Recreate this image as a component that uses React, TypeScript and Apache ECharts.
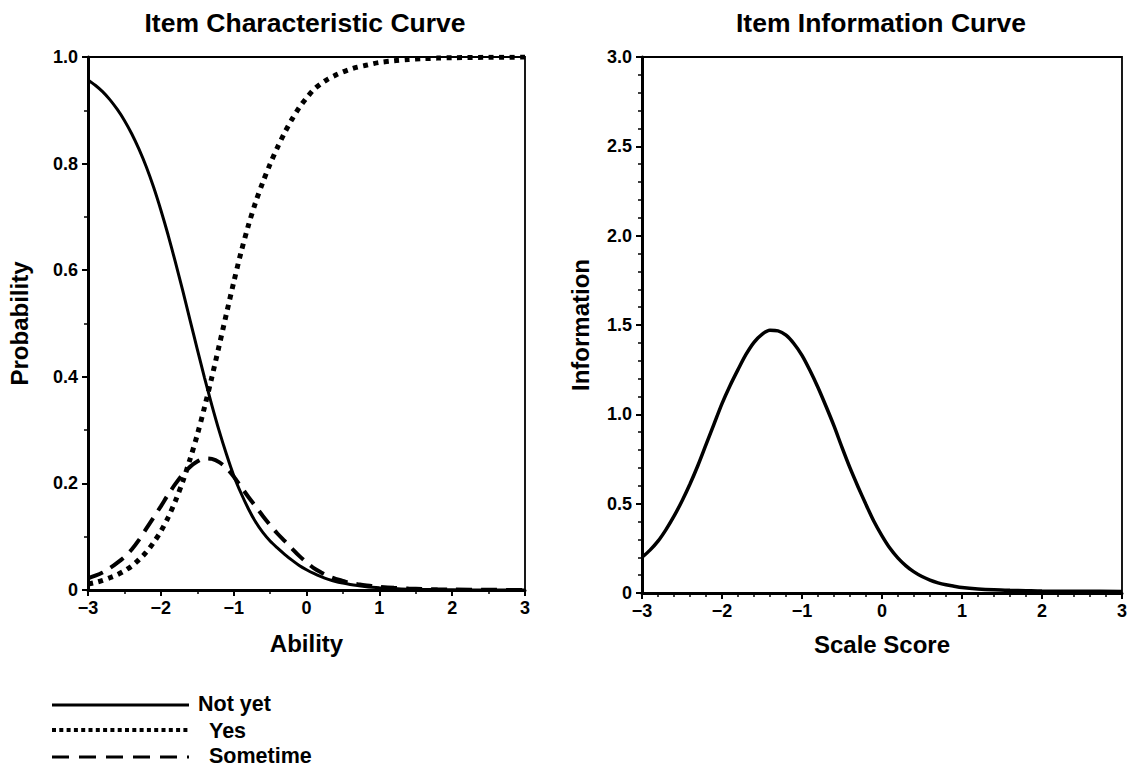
import React, { useEffect, useRef } from "react";
import * as echarts from "echarts";

const FONT = "'Liberation Sans', Arial, Helvetica, sans-serif";

// Ability / scale-score grid (read positions along the x axis)
const theta = [
  -3, -2.9, -2.8, -2.7, -2.6, -2.5, -2.4, -2.3, -2.2, -2.1, -2, -1.9, -1.8, -1.7, -1.6, -1.5, -1.4, -1.3, -1.2, -1.1,
  -1, -0.9, -0.8, -0.7, -0.6, -0.5, -0.4, -0.3, -0.2, -0.1, 0, 0.1, 0.2, 0.3, 0.4, 0.5, 0.6, 0.7, 0.8, 0.9,
  1, 1.2, 1.4, 1.6, 1.8, 2, 2.5, 3,
];

// Item characteristic curves
const notYet = [
  0.957, 0.947, 0.935, 0.92, 0.902, 0.881, 0.856, 0.827, 0.794, 0.756, 0.713, 0.666, 0.615, 0.562, 0.507, 0.452, 0.398, 0.347, 0.299, 0.255,
  0.215, 0.182, 0.153, 0.128, 0.108, 0.092, 0.079, 0.067, 0.056, 0.046, 0.038, 0.031, 0.025, 0.02, 0.016, 0.013, 0.0104, 0.0083, 0.0066, 0.0052,
  0.0041, 0.0026, 0.0016, 0.001, 0.0006, 0.0004, 0.0001, 0.00005,
];
const yes = [
  0.011, 0.014, 0.018, 0.023, 0.0285, 0.036, 0.045, 0.057, 0.071, 0.089, 0.11, 0.136, 0.167, 0.203, 0.245, 0.291, 0.343, 0.399, 0.458, 0.518,
  0.577, 0.633, 0.683, 0.727, 0.765, 0.799, 0.83, 0.858, 0.883, 0.905, 0.923, 0.939, 0.95, 0.959, 0.966, 0.972, 0.977, 0.981, 0.984, 0.987,
  0.9897, 0.993, 0.9953, 0.9968, 0.9979, 0.9986, 0.9995, 0.9998,
];
const sometime = [
  0.022, 0.027, 0.033, 0.041, 0.051, 0.062, 0.076, 0.094, 0.115, 0.136, 0.157, 0.179, 0.199, 0.217, 0.231, 0.241, 0.247, 0.246, 0.24, 0.229,
  0.213, 0.194, 0.175, 0.157, 0.139, 0.122, 0.106, 0.092, 0.078, 0.064, 0.052, 0.041, 0.033, 0.026, 0.021, 0.017, 0.013, 0.011, 0.009, 0.0075,
  0.006, 0.004, 0.0027, 0.0018, 0.0012, 0.0008, 0.0003, 0.0001,
];

// Item information curve
const information = [
  0.2, 0.24, 0.29, 0.355, 0.43, 0.515, 0.61, 0.715, 0.83, 0.945, 1.06, 1.16, 1.25, 1.335, 1.403, 1.448, 1.47, 1.467, 1.443, 1.395,
  1.33, 1.245, 1.15, 1.045, 0.935, 0.815, 0.7, 0.595, 0.495, 0.4, 0.32, 0.25, 0.195, 0.152, 0.118, 0.092, 0.072, 0.057, 0.046, 0.038,
  0.031, 0.023, 0.018, 0.015, 0.013, 0.011, 0.01, 0.009,
];

const titles = ["Item Characteristic Curve", "Item Information Curve"];
const legendNames = ["Not yet", "Yes", "Sometime"];

const pairs = (xs: number[], ys: number[]) => xs.map((x, i) => [x, ys[i]]);
const fmtX = (v: number) => (v < 0 ? "\u2212" + Math.abs(v) : String(v));
const fmtY = (v: number) => (v === 0 ? "0" : v.toFixed(1));

const labelStyle = { color: "#000", fontFamily: FONT, fontWeight: "bold" as const, fontSize: 18 };
const nameStyle = { color: "#000", fontFamily: FONT, fontWeight: "bold" as const, fontSize: 24 };

function xAxisCfg(gridIndex: number, name: string, minorSplit: number, gap: number) {
  return {
    type: "value",
    gridIndex,
    min: -3,
    max: 3,
    interval: 1,
    name,
    nameLocation: "middle",
    nameGap: gap,
    nameTextStyle: nameStyle,
    axisLine: { show: true, onZero: false, lineStyle: { color: "#000", width: 3 } },
    axisTick: { show: true, length: 6, lineStyle: { color: "#000", width: 2 } },
    minorTick: { show: true, splitNumber: minorSplit, length: 4, lineStyle: { color: "#000", width: 1.5 } },
    splitLine: { show: false },
    minorSplitLine: { show: false },
    axisLabel: { ...labelStyle, margin: 9, formatter: fmtX },
  };
}

function yAxisCfg(gridIndex: number, name: string, max: number, interval: number, minorSplit: number, gap: number) {
  return {
    type: "value",
    gridIndex,
    min: 0,
    max,
    interval,
    name,
    nameLocation: "middle",
    nameGap: gap,
    nameRotate: 90,
    nameTextStyle: nameStyle,
    axisLine: { show: true, onZero: false, lineStyle: { color: "#000", width: 3 } },
    axisTick: { show: true, length: 6, lineStyle: { color: "#000", width: 2 } },
    minorTick: { show: true, splitNumber: minorSplit, length: 4, lineStyle: { color: "#000", width: 1.5 } },
    splitLine: { show: false },
    minorSplitLine: { show: false },
    axisLabel: { ...labelStyle, margin: 10, formatter: fmtY },
  };
}

const legendLineY = [705, 730, 757];
const legendTextY = [704, 731, 756];
const legendDash: (number[] | null)[] = [null, [4, 3.3], [17, 10]];
const legendTextX = [198, 209, 209];

export default function App() {
  const ref = useRef<HTMLDivElement>(null);
  useEffect(() => {
    const chart = echarts.init(ref.current!, null, { renderer: "svg" });
    const titleX = [305, 881];
    const graphics: any[] = titles.map((t, i) => ({
      type: "text",
      x: titleX[i],
      y: 23,
      style: { text: t, fill: "#000", font: `bold 26.5px ${FONT}`, align: "center", verticalAlign: "middle", textAlign: "center", textVerticalAlign: "middle" },
    }));
    legendNames.forEach((n, i) => {
      graphics.push({
        type: "line",
        shape: { x1: 52, y1: legendLineY[i], x2: 189, y2: legendLineY[i] },
        style: { stroke: "#000", lineWidth: i === 1 ? 4 : 3, lineDash: legendDash[i] || undefined },
      });
      graphics.push({
        type: "text",
        x: legendTextX[i],
        y: legendTextY[i],
        style: { text: n, fill: "#000", font: `bold 21.5px ${FONT}`, align: "left", verticalAlign: "middle", textAlign: "left", textVerticalAlign: "middle" },
      });
    });

    const lineSeries = (name: string, xi: number, ys: number[], lineStyle: any) => ({
      type: "line",
      name,
      xAxisIndex: xi,
      yAxisIndex: xi,
      data: pairs(theta, ys),
      smooth: 0.3,
      showSymbol: false,
      lineStyle,
    });

    chart.setOption({
      animation: false,
      backgroundColor: "#fff",
      grid: [
        { left: 88, top: 57, width: 437, height: 533, show: true, borderColor: "#000", borderWidth: 1.8, backgroundColor: "transparent" },
        { left: 642, top: 57, width: 480, height: 536, show: true, borderColor: "#000", borderWidth: 1.8, backgroundColor: "transparent" },
      ],
      xAxis: [xAxisCfg(0, "Ability", 2, 41), xAxisCfg(1, "Scale Score", 5, 39)],
      yAxis: [yAxisCfg(0, "Probability", 1, 0.2, 2, 57), yAxisCfg(1, "Information", 3, 0.5, 5, 50)],
      series: [
        lineSeries("Not yet", 0, notYet, { color: "#000", width: 3 }),
        lineSeries("Yes", 0, yes, { color: "#000", width: 5, type: [5, 5.5], cap: "butt" }),
        lineSeries("Sometime", 0, sometime, { color: "#000", width: 4, type: [16, 9], cap: "butt" }),
        lineSeries("Information", 1, information, { color: "#000", width: 3.5 }),
      ],
      graphic: graphics,
    });
    return () => chart.dispose();
  }, []);
  return (
    <div
      ref={ref}
      style={{ position: "fixed", left: 0, top: 0, width: 1130, height: 768, background: "#fff" }}
    />
  );
}
